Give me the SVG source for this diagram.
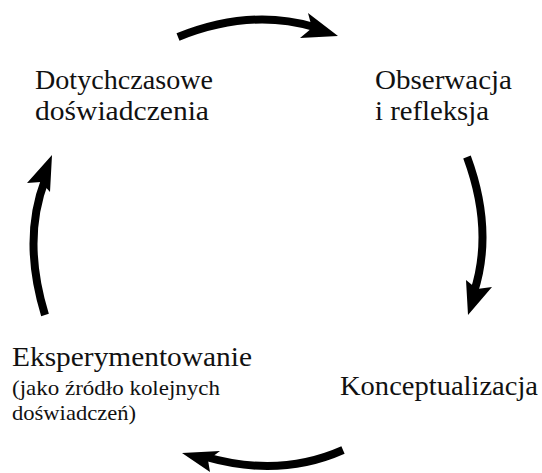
<svg xmlns="http://www.w3.org/2000/svg" width="542" height="473" viewBox="0 0 542 473">
<style>
text{font-family:"Liberation Serif","DejaVu Serif",serif;fill:#111;}
.big{font-size:28px;}
.small{font-size:21px;}
.shaft{fill:none;stroke:#000;stroke-width:8;}
.head{fill:#000;}
</style>
<rect width="542" height="473" fill="#fff"/>
<g id="connectors">
<path class="shaft" d="M178,37 Q250,8 314,27"/>
<polygon class="head" points="338,36 308,13 312,28 300,38"/>
<path class="shaft" d="M467,157 Q494,230 474,292"/>
<polygon class="head" points="468,315 466,280 477,289 492,287"/>
<path class="shaft" d="M343,450 Q280,478 206,457"/>
<polygon class="head" points="182,453 220,451 208,460 210,472"/>
<path class="shaft" d="M45,315 Q22,240 45,180"/>
<polygon class="head" points="52,155 27,183 41,182 50,192"/>
</g>
<g id="node-dotychczasowe">
<text class="big" x="35" y="89" textLength="178" lengthAdjust="spacingAndGlyphs">Dotychczasowe</text>
<text class="big" x="35" y="120" textLength="174" lengthAdjust="spacingAndGlyphs">doświadczenia</text>
</g>
<g id="node-obserwacja">
<text class="big" x="375" y="89" textLength="137" lengthAdjust="spacingAndGlyphs">Obserwacja</text>
<text class="big" x="375" y="120" textLength="114" lengthAdjust="spacingAndGlyphs">i refleksja</text>
</g>
<g id="node-konceptualizacja">
<text class="big" x="340" y="395" textLength="198" lengthAdjust="spacingAndGlyphs">Konceptualizacja</text>
</g>
<g id="node-eksperymentowanie">
<text class="big" x="12" y="366" textLength="240" lengthAdjust="spacingAndGlyphs">Eksperymentowanie</text>
<text class="small" x="12" y="395" textLength="208" lengthAdjust="spacingAndGlyphs">(jako źródło kolejnych</text>
<text class="small" x="12" y="420" textLength="124" lengthAdjust="spacingAndGlyphs">doświadczeń)</text>
</g>
</svg>
